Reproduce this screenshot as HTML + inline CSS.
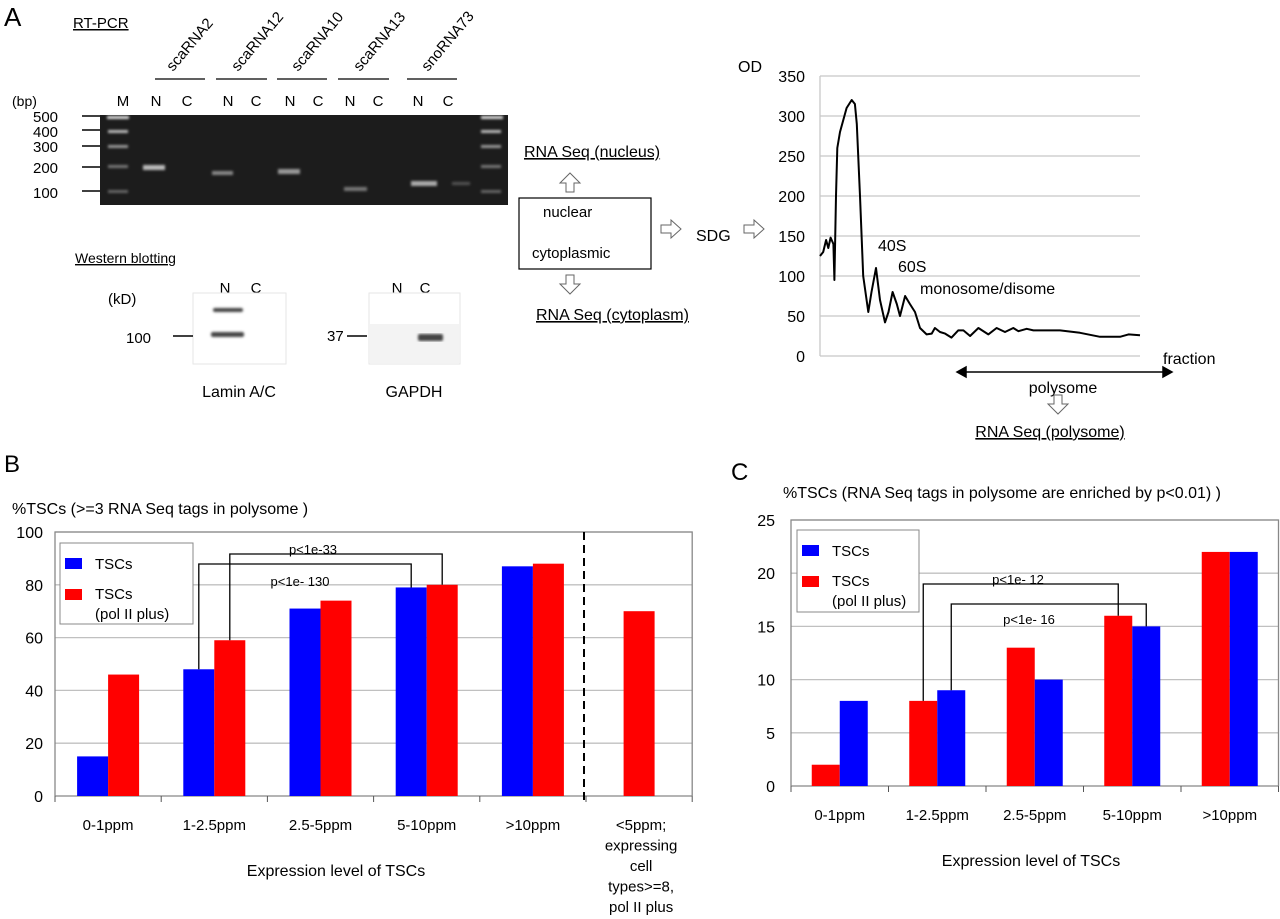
<!DOCTYPE html>
<html><head><meta charset="utf-8">
<style>
html,body{margin:0;padding:0;background:#fff;}
svg{display:block;font-family:"Liberation Sans",Arial,sans-serif;}
</style></head>
<body>
<svg id="fig" width="1280" height="919" viewBox="0 0 1280 919" xmlns="http://www.w3.org/2000/svg">
<defs>
<filter id="blur1"><feGaussianBlur stdDeviation="1.4"/></filter>
</defs>
<text x="4" y="26" font-size="26">A</text>
<text x="73" y="28" font-size="15" text-decoration="underline">RT-PCR</text>

<g id="gel">
  <rect x="100" y="115" width="408" height="90" fill="#1c1c1c"/>
  <g filter="url(#blur1)" fill="#ddd">
    <rect x="107" y="116" width="22" height="3"/>
    <rect x="108" y="130" width="20" height="3" fill="#bbb"/>
    <rect x="108" y="145" width="20" height="3" fill="#999"/>
    <rect x="108" y="165" width="20" height="3" fill="#777"/>
    <rect x="108" y="190" width="20" height="3" fill="#666"/>
    <rect x="481" y="116" width="22" height="3"/>
    <rect x="481" y="130" width="20" height="3" fill="#bbb"/>
    <rect x="481" y="145" width="20" height="3" fill="#999"/>
    <rect x="481" y="165" width="20" height="3" fill="#777"/>
    <rect x="481" y="190" width="20" height="3" fill="#666"/>
    <rect x="143" y="165" width="22" height="5" fill="#bbb"/>
    <rect x="212" y="171" width="21" height="4" fill="#888"/>
    <rect x="278" y="169" width="22" height="5" fill="#999"/>
    <rect x="344" y="187" width="23" height="4" fill="#777"/>
    <rect x="411" y="181" width="26" height="5" fill="#aaa"/>
    <rect x="452" y="182" width="18" height="3" fill="#555"/>
  </g>
</g>
<g font-size="15">
  <text x="12" y="106" font-size="14">(bp)</text>
  <text x="33" y="122">500</text><text x="33" y="137">400</text><text x="33" y="152">300</text>
  <text x="33" y="173">200</text><text x="33" y="198">100</text>
  <g stroke="#000" stroke-width="1.5">
    <line x1="82" y1="116" x2="100" y2="116"/><line x1="82" y1="130" x2="100" y2="130"/>
    <line x1="82" y1="146" x2="100" y2="146"/><line x1="82" y1="167" x2="100" y2="167"/>
    <line x1="82" y1="191" x2="100" y2="191"/>
  </g>
</g>
<g font-size="15" text-anchor="middle">
  <text x="123" y="106">M</text>
  <text x="156" y="106">N</text><text x="187" y="106">C</text>
  <text x="228" y="106">N</text><text x="256" y="106">C</text>
  <text x="290" y="106">N</text><text x="318" y="106">C</text>
  <text x="350" y="106">N</text><text x="378" y="106">C</text>
  <text x="418" y="106">N</text><text x="448" y="106">C</text>
</g>
<g stroke="#000" stroke-width="1.2">
  <line x1="155" y1="79" x2="205" y2="79"/><line x1="216" y1="79" x2="267" y2="79"/>
  <line x1="277" y1="79" x2="327" y2="79"/><line x1="338" y1="79" x2="389" y2="79"/>
  <line x1="407" y1="79" x2="457" y2="79"/>
</g>
<g font-size="15">
  <text transform="translate(173,72) rotate(-50)">scaRNA2</text>
  <text transform="translate(238,72) rotate(-50)">scaRNA12</text>
  <text transform="translate(298,72) rotate(-50)">scaRNA10</text>
  <text transform="translate(360,72) rotate(-50)">scaRNA13</text>
  <text transform="translate(428,72) rotate(-50)">snoRNA73</text>
</g>

<text x="75" y="263" font-size="14" text-decoration="underline">Western  blotting</text>
<g>
  <text x="108" y="304" font-size="15">(kD)</text>
  <text x="225" y="293" font-size="15" text-anchor="middle">N</text>
  <text x="256" y="293" font-size="15" text-anchor="middle">C</text>
  <rect x="193" y="293" width="93" height="71" fill="#fff" stroke="#e6e6e6"/>
  <g filter="url(#blur1)" fill="#444">
    <rect x="213" y="308" width="30" height="4" rx="2"/>
    <rect x="211" y="332" width="33" height="5" rx="2"/>
  </g>
  <text x="126" y="343" font-size="15">100</text>
  <line x1="173" y1="336" x2="193" y2="336" stroke="#000" stroke-width="1.5"/>
  <text x="239" y="397" font-size="16" text-anchor="middle">Lamin A/C</text>
</g>
<g>
  <text x="397" y="293" font-size="15" text-anchor="middle">N</text>
  <text x="425" y="293" font-size="15" text-anchor="middle">C</text>
  <rect x="369" y="293" width="91" height="71" fill="#fff" stroke="#e6e6e6"/>
  <rect x="370" y="324" width="89" height="39" fill="#f3f3f3"/>
  <rect x="418" y="334" width="25" height="7" rx="2" fill="#444" filter="url(#blur1)"/>
  <text x="327" y="341" font-size="15">37</text>
  <line x1="347" y1="336" x2="367" y2="336" stroke="#000" stroke-width="1.5"/>
  <text x="414" y="397" font-size="16" text-anchor="middle">GAPDH</text>
</g>

<g>
  <text x="524" y="157" font-size="16" text-decoration="underline">RNA Seq (nucleus)</text>
  <path d="M570,173 L580,183 L574,183 L574,192 L566,192 L566,183 L560,183 Z" fill="#fff" stroke="#666"/>
  <rect x="519" y="198" width="132" height="71" fill="#fff" stroke="#000" stroke-width="1.2"/>
  <text x="543" y="217" font-size="15">nuclear</text>
  <text x="532" y="258" font-size="15">cytoplasmic</text>
  <path d="M570,294 L580,284 L574,284 L574,275 L566,275 L566,284 L560,284 Z" fill="#fff" stroke="#666"/>
  <text x="536" y="320" font-size="16" text-decoration="underline">RNA Seq (cytoplasm)</text>
  <path d="M661,225 L671,225 L671,220 L681,229 L671,238 L671,233 L661,233 Z" fill="#fff" stroke="#666"/>
  <text x="696" y="241" font-size="16">SDG</text>
  <path d="M744,225 L754,225 L754,220 L764,229 L754,238 L754,233 L744,233 Z" fill="#fff" stroke="#666"/>
</g>

<g id="odChart"></g>
<g id="chartB"></g>
<g id="chartC"></g>
</svg>

<script>
// ---- OD profile data ----
const odX = [0,1.0,1.9,2.6,3.3,4.2,4.5,5,5.4,6.25,8.3,9.9,10.9,11.5,12.5,13.5,15.1,16.1,17.5,18.75,20.3,21.4,22.7,24,25,26.6,28.1,29.7,31.25,33.3,34.9,35.9,37.5,39.1,41.1,43.2,44.8,46.9,49.5,52.6,55.2,57.8,60.4,62,64.6,66.7,75,81.25,87.5,90.6,93.75,96.4,100];
const odY = [125,130,145,135,148,140,95,200,260,280,310,320,315,290,200,100,55,80,110,70,42,55,80,65,50,75,65,55,35,27,28,35,30,28,23,32,32,25,35,27,35,30,35,31,34,32,32,29,24,24,24,27,26];
const odTicks = [0,50,100,150,200,250,300,350];

// ---- Panel B data ----
const bCats = ["0-1ppm","1-2.5ppm","2.5-5ppm","5-10ppm",">10ppm"];
const bBlue = [15,48,71,79,87];
const bRed = [46,59,74,80,88];
const bExtraRed = [70];
const bTicks = [0,20,40,60,80,100];

// ---- Panel C data ----
const cCats = ["0-1ppm","1-2.5ppm","2.5-5ppm","5-10ppm",">10ppm"];
const cRed = [2,8,13,16,22];
const cBlue = [8,9,10,15,22];
const cTicks = [0,5,10,15,20,25];

const NS = "http://www.w3.org/2000/svg";
function mk(parent, tag, attrs, text){
  const e = document.createElementNS(NS, tag);
  for (const k in attrs) e.setAttribute(k, attrs[k]);
  if (text !== undefined) e.textContent = text;
  parent.appendChild(e);
  return e;
}

(function(){
  const g = document.getElementById('odChart');
  const L=820, R=1140, T=76, B=356, ymax=350;
  const sx = v => L + v/100*(R-L);
  const sy = v => B - v/ymax*(B-T);
  odTicks.forEach(t=>{
    const ln = mk(g,'line',{x1:L,x2:R,y1:sy(t),y2:sy(t),stroke:'#c8c8c8','stroke-width':1.3});
    
    
    const tx = mk(g,'text',{x:L-15,y:sy(t)+6,'font-size':16,'text-anchor':'end'},String(t));
    
    
  });
  const ax = mk(g,'line',{x1:L,x2:L,y1:T,y2:B,stroke:'#c8c8c8','stroke-width':1.3});
  
  
  let d = odX.map((x,i)=>(i?'L':'M')+sx(x).toFixed(1)+','+sy(odY[i]).toFixed(1)).join(' ');
  const p = mk(g,'path',{d:d,fill:'none',stroke:'#000','stroke-width':2,'stroke-linejoin':'round'});
  
  
  const lbls = [["OD",738,72],["40S",878,251],["60S",898,272],["monosome/disome",920,294],["fraction",1163,364]];
  lbls.forEach(l=>{
    const t = mk(g,'text',{x:l[1],y:l[2],'font-size':16},l[0]);
    
    
  });
  const arr = mk(g,'path',{d:'M957,372 L1172,372 M957,372 l9,-5 l0,10 Z M1172,372 l-9,-5 l0,10 Z',stroke:'#000','stroke-width':1.5,fill:'#000'});
  
  
  const pt = mk(g,'text',{x:1063,y:393,'font-size':16,'text-anchor':'middle'},'polysome');
  
  
  const da = mk(g,'path',{d:'M1058,414 L1068,404 L1062,404 L1062,395 L1054,395 L1054,404 L1048,404 Z',fill:'#fff',stroke:'#666'});
  
  
  const rs = mk(g,'text',{x:1050,y:437,'font-size':16,'text-anchor':'middle','text-decoration':'underline'},'RNA Seq (polysome)');
  
  
})();

function legend(g, x, y, w, h, firstColor, secondColor){
  const r = mk(g,'rect',{x:x,y:y,width:w,height:h,fill:'#fff',stroke:'#888'});
  
  
  const s1 = mk(g,'rect',{x:x+5,y:y+15,width:17,height:11,fill:firstColor});
  
  
  const t1 = mk(g,'text',{x:x+35,y:y+26,'font-size':15},'TSCs');
  
  
  const s2 = mk(g,'rect',{x:x+5,y:y+46,width:17,height:11,fill:secondColor});
  
  
  const t2 = mk(g,'text',{x:x+35,y:y+56,'font-size':15},'TSCs');
  
  
  const t3 = mk(g,'text',{x:x+35,y:y+76,'font-size':15},'(pol II plus)');
  
  
}

function bracket(g, x1, y1, x2, y2, yTop){
  const p = mk(g,'path',{d:`M${x1},${y1} L${x1},${yTop} L${x2},${yTop} L${x2},${y2}`,fill:'none',stroke:'#000','stroke-width':1.3});
  
  
}

(function(){
  const g = document.getElementById('chartB');
  const L=55, T=532, B=796, cw=106.2, nc=6, ymax=100, bw=31;
  const R = L+nc*cw;
  const sy = v => B - v/ymax*(B-T);
  const cx = i => L + cw*(i+0.5);
  const pl = mk(g,'text',{x:4,y:472,'font-size':24},'B');
  
  
  const tt = mk(g,'text',{x:12,y:514,'font-size':16},'%TSCs (>=3 RNA Seq tags in polysome )');
  
  
  bTicks.forEach(t=>{
    const ln = mk(g,'line',{x1:L,x2:R,y1:sy(t),y2:sy(t),stroke:t===0?'#888':'#c0c0c0','stroke-width':1.3});
    
    
    const tx = mk(g,'text',{x:L-12,y:sy(t)+6,'font-size':16,'text-anchor':'end'},String(t));
    
    
  });
  const frame = mk(g,'path',{d:`M${L},${B} L${L},${T} L${R},${T} L${R},${B}`,fill:'none',stroke:'#888','stroke-width':1.3});
  
  
  for(let i=0;i<=nc;i++){
    const tk = mk(g,'line',{x1:L+i*cw,x2:L+i*cw,y1:B,y2:B+6,stroke:'#555'});
    
    
  }
  bCats.forEach((c,i)=>{
    const b1 = mk(g,'rect',{x:cx(i)-bw,y:sy(bBlue[i]),width:bw,height:B-sy(bBlue[i]),fill:'#0000ff'});
    
    
    const b2 = mk(g,'rect',{x:cx(i),y:sy(bRed[i]),width:bw,height:B-sy(bRed[i]),fill:'#ff0000'});
    
    
    const lb = mk(g,'text',{x:cx(i),y:830,'font-size':15,'text-anchor':'middle'},c);
    
    
  });
  const ex = mk(g,'rect',{x:cx(5)-bw/2,y:sy(bExtraRed[0]),width:bw,height:B-sy(bExtraRed[0]),fill:'#ff0000'});
  
  
  const dl = mk(g,'line',{x1:L+5*cw-2,x2:L+5*cw-2,y1:T,y2:B+6,stroke:'#000','stroke-width':2,'stroke-dasharray':'8,5'});
  
  
  ["<5ppm;","expressing","cell","types>=8,","pol II plus"].forEach((s,k)=>{
    const t = mk(g,'text',{x:cx(5)+2,y:830+k*20.5,'font-size':15,'text-anchor':'middle'},s);
    
    
  });
  const xt = mk(g,'text',{x:336,y:876,'font-size':16,'text-anchor':'middle'},'Expression level of TSCs');
  
  
  legend(g, 60, 543, 133, 81, '#0000ff', '#ff0000');
  bracket(g, cx(1)-bw/2, sy(bBlue[1]), cx(3)-bw/2, sy(bBlue[3]), 564);
  bracket(g, cx(1)+bw/2, sy(bRed[1]), cx(3)+bw/2, sy(bRed[3]), 554);
  const p1 = mk(g,'text',{x:313,y:554,'font-size':13,'text-anchor':'middle'},'p<1e-33');
  
  
  const p2 = mk(g,'text',{x:300,y:586,'font-size':13,'text-anchor':'middle'},'p<1e- 130');
  
  
})();

(function(){
  const g = document.getElementById('chartC');
  const L=791, T=520, B=786, cw=97.5, nc=5, ymax=25, bw=28;
  const R = L+nc*cw;
  const sy = v => B - v/ymax*(B-T);
  const cx = i => L + cw*(i+0.5);
  const pl = mk(g,'text',{x:731,y:480,'font-size':24},'C');
  
  
  const tt = mk(g,'text',{x:783,y:498,'font-size':16},'%TSCs (RNA Seq tags in polysome are enriched by p<0.01) )');
  
  
  cTicks.forEach(t=>{
    const ln = mk(g,'line',{x1:L,x2:R,y1:sy(t),y2:sy(t),stroke:t===0?'#888':'#c0c0c0','stroke-width':1.3});
    
    
    const tx = mk(g,'text',{x:L-16,y:sy(t)+6,'font-size':16,'text-anchor':'end'},String(t));
    
    
  });
  const frame = mk(g,'path',{d:`M${L},${B} L${L},${T} L${R},${T} L${R},${B}`,fill:'none',stroke:'#888','stroke-width':1.3});
  
  
  for(let i=0;i<=nc;i++){
    const tk = mk(g,'line',{x1:L+i*cw,x2:L+i*cw,y1:B,y2:B+6,stroke:'#555'});
    
    
  }
  cCats.forEach((c,i)=>{
    const b1 = mk(g,'rect',{x:cx(i)-bw,y:sy(cRed[i]),width:bw,height:B-sy(cRed[i]),fill:'#ff0000'});
    
    
    const b2 = mk(g,'rect',{x:cx(i),y:sy(cBlue[i]),width:bw,height:B-sy(cBlue[i]),fill:'#0000ff'});
    
    
    const lb = mk(g,'text',{x:cx(i),y:820,'font-size':15,'text-anchor':'middle'},c);
    
    
  });
  const xt = mk(g,'text',{x:1031,y:866,'font-size':16,'text-anchor':'middle'},'Expression level of TSCs');
  
  
  legend(g, 797, 530, 122, 82, '#0000ff', '#ff0000');
  bracket(g, cx(1)-bw/2, sy(cRed[1]), cx(3)-bw/2, sy(cRed[3]), 584);
  bracket(g, cx(1)+bw/2, sy(cBlue[1]), cx(3)+bw/2, sy(cBlue[3]), 604);
  const p1 = mk(g,'text',{x:1018,y:584,'font-size':13,'text-anchor':'middle'},'p<1e- 12');
  
  
  const p2 = mk(g,'text',{x:1029,y:624,'font-size':13,'text-anchor':'middle'},'p<1e- 16');
  
  
})();
</script>
</body></html>
